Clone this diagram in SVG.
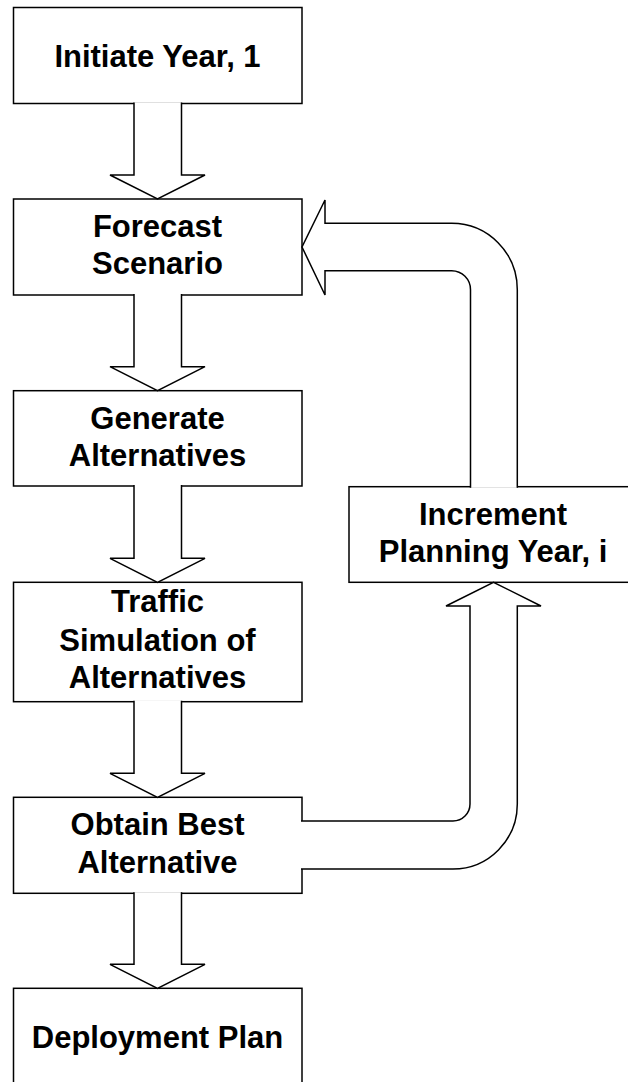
<svg xmlns="http://www.w3.org/2000/svg" width="628" height="1082" viewBox="0 0 628 1082">
<style>
.box{fill:#fff;stroke:#000;stroke-width:1.5}
.arr{fill:#fff;stroke:#000;stroke-width:1.5;stroke-linejoin:miter}
text{font-family:"Liberation Sans",Arial,sans-serif;font-weight:bold;font-size:31px;fill:#000;text-anchor:middle}
</style>
<rect width="628" height="1082" fill="#fff"/>
<g id="n1"><rect class="box" x="13.5" y="7.5" width="288.5" height="96"/><text x="157.5" y="66.5">Initiate Year, 1</text></g>
<g id="n2"><rect class="box" x="13.5" y="199" width="288.5" height="96"/><text x="157.5" y="236.7">Forecast</text><text x="157.5" y="274">Scenario</text></g>
<g id="n3"><rect class="box" x="13.5" y="390.7" width="288.5" height="95.3"/><text x="157.5" y="429">Generate</text><text x="157.5" y="465.7">Alternatives</text></g>
<g id="n4"><rect class="box" x="13.5" y="582.3" width="288.5" height="119.4"/><text x="157.5" y="612.3">Traffic</text><text x="157.5" y="650.7">Simulation of</text><text x="157.5" y="688.3">Alternatives</text></g>
<g id="n5"><rect class="box" x="13.5" y="797.3" width="288.5" height="96"/><text x="157.5" y="835">Obtain Best</text><text x="157.5" y="873.3">Alternative</text></g>
<g id="n6"><rect class="box" x="13.5" y="988.3" width="288.5" height="96"/><text x="157.5" y="1048">Deployment Plan</text></g>
<g id="n7"><rect class="box" x="349" y="486.7" width="288" height="95.6"/><text x="493" y="525">Increment</text><text x="493" y="561.7">Planning Year, i</text></g>
<g id="connectors">
<path class="arr" d="M134,102.5 V175 H110 L157.5,199 L205,175 H181.5 V102.5"/>
<path class="arr" d="M134,294 V366.7 H110 L157.5,390.7 L205,366.7 H181.5 V294"/>
<path class="arr" d="M134,485 V558.3 H110 L157.5,582.3 L205,558.3 H181.5 V485"/>
<path class="arr" d="M134,700.7 V773.3 H110 L157.5,797.3 L205,773.3 H181.5 V700.7"/>
<path class="arr" d="M134,892.3 V964.3 H110 L157.5,988.3 L205,964.3 H181.5 V892.3"/>
<path class="arr" d="M517.3,487.7 V289.7 A65.6,66.4 0 0 0 451.7,223.3 H325 V200 L302,247 L325,295 V270.7 H451.7 A19,19 0 0 1 470.5,289.7 V487.7"/>
<path class="arr" d="M301,821 H453 A17,17 0 0 0 470,804 V606 H446 L493.5,582.3 L541,606 H517.3 V804 A64.3,65 0 0 1 453,869 H301"/>
</g>
</svg>
